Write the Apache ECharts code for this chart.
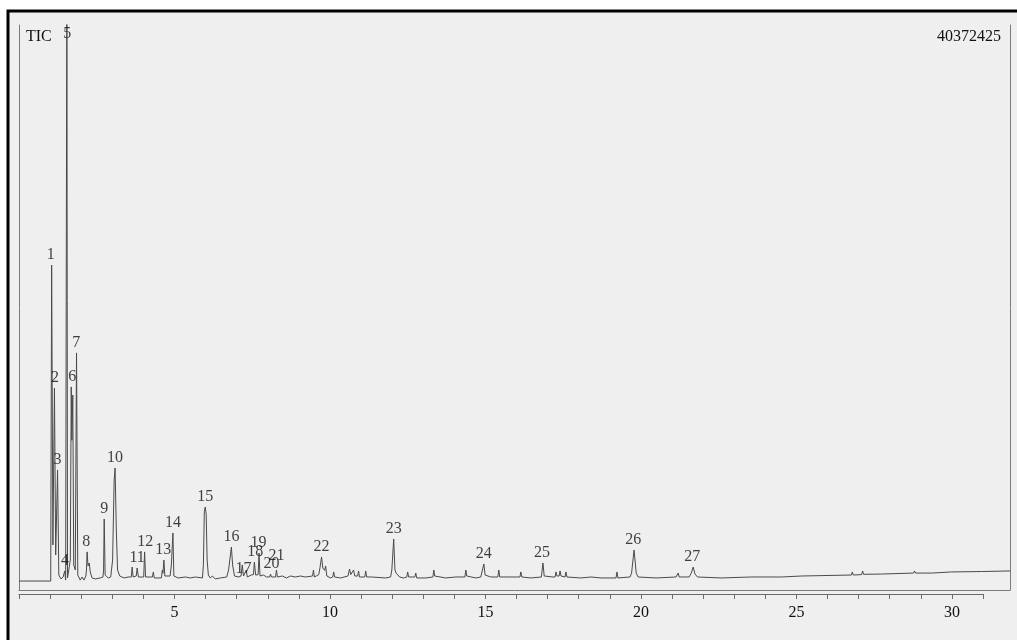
<!DOCTYPE html>
<html>
<head>
<meta charset="utf-8">
<script src="https://cdn.jsdelivr.net/npm/echarts@6/dist/echarts.min.js"></script>
<style>
  html, body { margin: 0; padding: 0; background: #ffffff; }
  #chart { width: 1017px; height: 640px; }
</style>
</head>
<body>
<div id="chart"></div>
<script>
// ---- data (retention time in min, intensity in millions of counts) ----
const fullScale = 40372425;
const timeTicks = [0, 5, 10, 15, 20, 25, 30];
const tic = [
  [0,0.64],[1.02,0.64],[1.05,23.22],[1.09,3.22],[1.14,14.43],[1.18,2.50],[1.24,8.58],[1.28,1.07],[1.35,0.79],[1.42,0.93],
  [1.44,0.93],[1.47,1.36],[1.50,0.71],[1.52,0.57],[1.54,44],[1.56,0.86],[1.60,1.43],[1.65,2.14],[1.68,14.51],[1.70,10.7],
  [1.73,13.93],[1.76,1.79],[1.81,1.43],[1.85,16.94],[1.89,1.07],[1.97,0.71],[2.03,0.93],[2.09,0.71],[2.15,1.00],[2.17,1.43],
  [2.19,2.72],[2.22,1.72],[2.26,1.93],[2.29,1.29],[2.35,0.86],[2.45,0.79],[2.61,0.86],[2.70,0.93],[2.72,1.43],[2.74,5.07],
  [2.77,1.07],[2.87,0.86],[2.95,0.93],[3.01,2.14],[3.06,7.86],[3.09,8.72],[3.13,4.29],[3.17,1.43],[3.24,1.00],[3.38,0.86],
  [3.51,0.93],[3.61,0.93],[3.64,1.64],[3.67,0.93],[3.77,1.00],[3.80,1.57],[3.84,0.93],[4.01,0.93],[4.04,2.72],[4.07,0.93],
  [4.22,0.93],[4.29,0.93],[4.32,1.29],[4.35,0.86],[4.58,0.86],[4.61,1.43],[4.63,1.2],[4.66,2.14],[4.69,1.00],[4.86,1.00],
  [4.90,1.79],[4.95,4.07],[4.98,1.00],[5.12,0.86],[5.35,0.93],[5.51,0.86],[5.67,0.93],[5.90,0.86],[5.93,1.8],[5.96,5.6],
  [5.99,5.93],[6.02,5.4],[6.05,2.14],[6.09,1.07],[6.15,0.86],[6.22,1.00],[6.31,0.79],[6.48,0.86],[6.68,0.93],[6.74,1.43],
  [6.83,3.07],[6.87,1.79],[6.93,1.00],[7.06,0.93],[7.14,1.00],[7.18,1.79],[7.22,1.00],[7.28,1.00],[7.31,1.43],[7.34,0.93],
  [7.47,1.07],[7.54,1.1],[7.57,2.00],[7.61,1.07],[7.69,1.1],[7.72,2.64],[7.75,1.00],[7.86,1.07],[7.96,0.93],[8.06,0.93],
  [8.09,1.14],[8.12,0.93],[8.25,0.93],[8.28,1.43],[8.31,0.93],[8.47,1.00],[8.60,0.86],[8.73,1.00],[8.89,0.93],[9.05,1.00],
  [9.21,0.93],[9.44,1.00],[9.47,1.43],[9.50,0.93],[9.64,1.1],[9.68,1.6],[9.73,2.36],[9.77,1.57],[9.83,1.4],[9.86,1.72],
  [9.90,1.00],[10.02,0.86],[10.09,0.93],[10.12,1.29],[10.15,0.93],[10.34,0.86],[10.58,1.00],[10.63,1.50],[10.67,1.1],[10.70,1.21],
  [10.73,1.05],[10.76,1.43],[10.80,1.00],[10.89,1.00],[10.92,1.36],[10.95,0.93],[11.12,0.93],[11.15,1.36],[11.18,0.93],[11.34,0.93],
  [11.37,1.07],[11.40,0.86],[11.79,0.86],[11.95,0.93],[11.99,1.43],[12.05,3.64],[12.09,1.43],[12.13,1.2],[12.18,1.21],[12.24,0.93],
  [12.37,0.86],[12.47,0.93],[12.50,1.29],[12.53,0.93],[12.73,0.93],[12.76,1.21],[12.79,0.86],[13.08,0.86],[13.31,0.93],[13.34,1.43],
  [13.37,1.0],[13.40,1.14],[13.43,0.93],[13.72,0.86],[14.05,0.93],[14.34,0.93],[14.37,1.43],[14.40,1.00],[14.69,0.86],[14.85,0.93],
  [14.88,1.07],[14.95,1.86],[14.99,1.07],[15.17,0.93],[15.40,0.93],[15.43,1.43],[15.46,0.93],[15.82,0.93],[16.11,0.93],[16.14,1.29],
  [16.17,0.93],[16.46,0.86],[16.80,0.93],[16.85,1.93],[16.89,1.00],[17.17,0.93],[17.24,0.93],[17.27,1.29],[17.30,1.00],[17.37,1.00],
  [17.40,1.36],[17.43,1.00],[17.56,0.93],[17.59,1.29],[17.62,0.93],[18.07,0.86],[18.40,0.93],[18.72,0.86],[19.20,0.86],[19.23,1.29],
  [19.26,0.86],[19.65,0.93],[19.70,1.2],[19.78,2.86],[19.85,1.2],[19.91,0.93],[20.49,0.86],[21.13,0.93],[21.17,0.93],[21.20,1.21],
  [21.23,0.93],[21.55,0.93],[21.62,1.2],[21.68,1.64],[21.74,1.14],[21.82,0.93],[22.58,0.86],[23.55,0.93],[24.52,0.93],[25.16,1.00],
  [26.77,1.07],[26.80,1.29],[26.83,1.07],[27.10,1.10],[27.13,1.36],[27.16,1.12],[27.74,1.14],[28.77,1.21],[28.80,1.36],[28.83,1.21],
  [29.35,1.21],[29.99,1.29],[30.96,1.32],[31.87,1.36]
];
const peakNames = ['1','2','3','4','5','6','7','8','9','10','11','12','13','14','15','16','17','18','19','20','21','22','23','24','25','26','27'];
const peakTimes = [1.02,1.16,1.24,1.48,1.55,1.71,1.84,2.16,2.74,3.09,3.80,4.06,4.64,4.95,5.99,6.83,7.22,7.60,7.70,8.12,8.28,9.73,12.05,14.95,16.82,19.75,21.65];
const peakHeights = [23.22,14.43,8.58,1.36,44,14.51,16.94,2.72,5.07,8.72,1.57,2.72,2.14,4.07,5.93,3.07,1.79,2.00,2.64,1.14,1.43,2.36,3.64,1.86,1.93,2.86,1.64];

// ---- chart ----
const yMax = fullScale / 1e6;
const serif = 'Liberation Serif';
const labelData = peakNames.map((n, i) => {
  const item = { name: n, value: [peakTimes[i], Math.min(peakHeights[i], yMax)] };
  if (peakHeights[i] > yMax) item.label = { position: 'bottom', distance: 0 };
  if (n === '17') item.label = { position: 'bottom', distance: -5 };
  if (n === '21') item.label = { distance: 5 };
  return item;
});

const chart = echarts.init(document.getElementById('chart'), null, { renderer: 'canvas' });
const frameColor = '#7a7a7a';
chart.setOption({
  animation: false,
  backgroundColor: '#ffffff',
  graphic: [{
    type: 'rect', z: -10, silent: true,
    shape: { x: 8, y: 11, width: 1100, height: 700 },
    style: { fill: '#efefef', stroke: '#000000', lineWidth: 3 }
  }],
  title: [
    { text: 'TIC', left: 21, top: 24, textStyle: { fontFamily: serif, fontSize: 16, fontWeight: 'normal', color: '#111' } },
    { text: String(fullScale), right: 11, top: 24, textStyle: { fontFamily: serif, fontSize: 16, fontWeight: 'normal', color: '#111' } }
  ],
  grid: [
    { left: 19, right: 7, top: 25, bottom: 50 },
    { left: 19, right: 34, top: 25, bottom: 46 }
  ],
  xAxis: [
    { gridIndex: 0, type: 'value', position: 'top', min: 0, max: 31.87,
      axisLine: { show: true, lineStyle: { color: frameColor, width: 1 } },
      axisTick: { show: false }, axisLabel: { show: false }, splitLine: { show: false } },
    { gridIndex: 1, type: 'value', position: 'bottom', min: 0, max: 31, interval: 1,
      axisLine: { show: true, lineStyle: { color: '#6a6a6a', width: 1 } },
      axisTick: { show: true, length: 5, inside: false, lineStyle: { color: '#6a6a6a' } },
      axisLabel: { show: true, margin: 11, fontFamily: serif, fontSize: 16, color: '#111',
        formatter: v => (timeTicks.indexOf(v) > 0 ? String(v) : '') },
      splitLine: { show: false } }
  ],
  yAxis: [
    { gridIndex: 0, type: 'value', position: 'left', min: 0, max: yMax,
      axisLine: { show: true, lineStyle: { color: frameColor, width: 1 } },
      axisTick: { show: false }, axisLabel: { show: false }, splitLine: { show: false } },
    { gridIndex: 0, type: 'value', position: 'right', min: 0, max: yMax,
      axisLine: { show: true, lineStyle: { color: frameColor, width: 1 } },
      axisTick: { show: false }, axisLabel: { show: false }, splitLine: { show: false } },
    { gridIndex: 1, type: 'value', show: false, min: 0, max: yMax }
  ],
  series: [
    { type: 'line', xAxisIndex: 0, yAxisIndex: 0, data: tic, showSymbol: false, symbol: 'none',
      smooth: false, clip: true, sampling: null, lineStyle: { color: '#4a4a4a', width: 1 }, z: 3 },
    { type: 'scatter', xAxisIndex: 0, yAxisIndex: 0, data: labelData, symbolSize: 2,
      itemStyle: { color: 'rgba(0,0,0,0)' }, clip: false, z: 4,
      label: { show: true, position: 'top', distance: 1, formatter: p => p.name,
        fontFamily: serif, fontSize: 16, color: '#111' } }
  ]
});
</script>
</body>
</html>
